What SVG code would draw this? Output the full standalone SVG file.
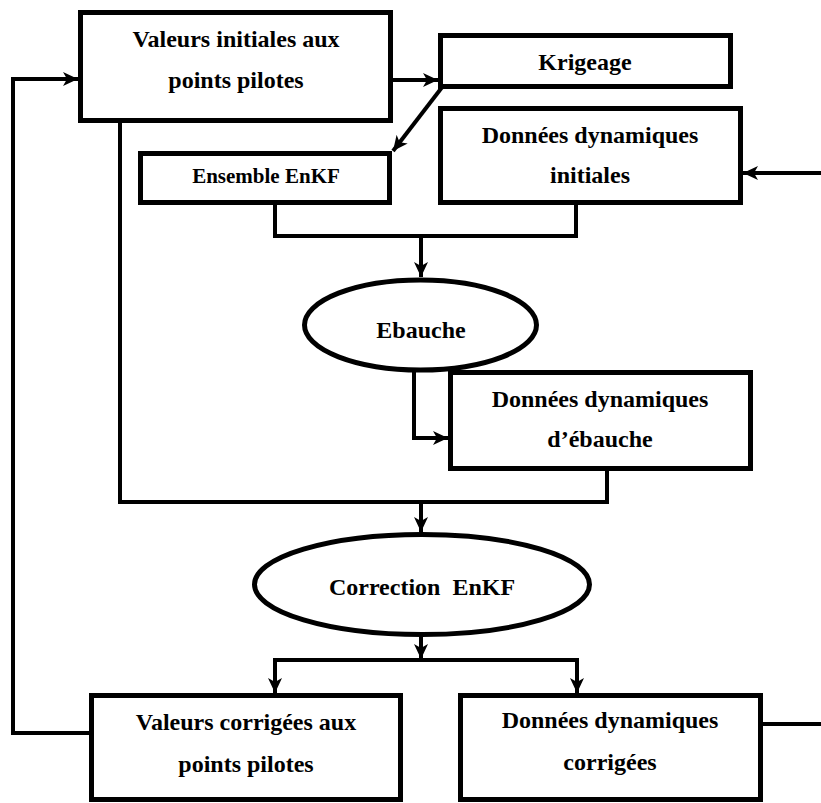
<svg xmlns="http://www.w3.org/2000/svg" width="821" height="803" viewBox="0 0 821 803">
<style>
.box{fill:#fff;stroke:#000;stroke-width:5}
.t{font-family:"Liberation Serif","Times New Roman",serif;font-weight:bold;font-size:24px;fill:#000;text-anchor:middle;white-space:pre}
.s{font-size:21px}
.c{fill:none;stroke:#000;stroke-width:4;stroke-linejoin:miter}
.a{marker-end:url(#arr)}
</style>
<defs>
<marker id="arr" markerUnits="userSpaceOnUse" markerWidth="16" markerHeight="14" refX="15" refY="7" orient="auto">
<path d="M0,0 L15,7 L0,14 L4,7 Z" fill="#000"/>
</marker>
</defs>
<rect width="821" height="803" fill="#fff"/>
<g id="connectors">
<path class="c a" d="M91,733 H13 V79 H78"/>
<path class="c a" d="M393,80 H438"/>
<path class="c a" d="M443,86 L393,151"/>
<path class="c a" d="M821,173 H743"/>
<path class="c" d="M275,205 V236 H576 V205"/>
<path class="c a" d="M421,236 V277"/>
<path class="c a" d="M414,369 V438 H448"/>
<path class="c" d="M120,123 V502 H607 V471"/>
<path class="c a" d="M421,502 V532"/>
<path class="c a" d="M421,636 V659"/>
<path class="c a" d="M424,660 H275 V693"/>
<path class="c a" d="M418,660 H577 V693"/>
<path class="c" d="M763,724 H821"/>
</g>
<g id="n_valeurs_init">
<rect class="box" x="80.5" y="12.5" width="310" height="108"/>
<text class="t" x="236" y="47">Valeurs initiales aux</text>
<text class="t" x="236" y="88">points pilotes</text>
</g>
<g id="n_krigeage">
<rect class="box" x="440.5" y="35.5" width="290" height="51"/>
<text class="t" x="585" y="70">Krigeage</text>
</g>
<g id="n_ensemble">
<rect class="box" x="140.5" y="153.5" width="249" height="49"/>
<text class="t s" x="266" y="183">Ensemble EnKF</text>
</g>
<g id="n_donnees_init">
<rect class="box" x="440.5" y="108.5" width="300" height="94"/>
<text class="t" x="590" y="143">Données dynamiques</text>
<text class="t" x="590" y="183">initiales</text>
</g>
<g id="n_ebauche">
<ellipse class="box" cx="420.5" cy="325" rx="116" ry="45"/>
<text class="t" x="421" y="338">Ebauche</text>
</g>
<g id="n_donnees_ebauche">
<rect class="box" x="450.5" y="372.5" width="300" height="96"/>
<text class="t" x="600" y="407">Données dynamiques</text>
<text class="t" x="600" y="447">d’ébauche</text>
</g>
<g id="n_correction">
<ellipse class="box" cx="422" cy="584.5" rx="167.5" ry="50"/>
<text class="t" x="422" y="595">Correction  EnKF</text>
</g>
<g id="n_valeurs_corr">
<rect class="box" x="91.5" y="695.5" width="309" height="104"/>
<text class="t" x="246" y="730">Valeurs corrigées aux</text>
<text class="t" x="246" y="772">points pilotes</text>
</g>
<g id="n_donnees_corr">
<rect class="box" x="460.5" y="695.5" width="300" height="104"/>
<text class="t" x="610" y="728">Données dynamiques</text>
<text class="t" x="610" y="770">corrigées</text>
</g>
</svg>
